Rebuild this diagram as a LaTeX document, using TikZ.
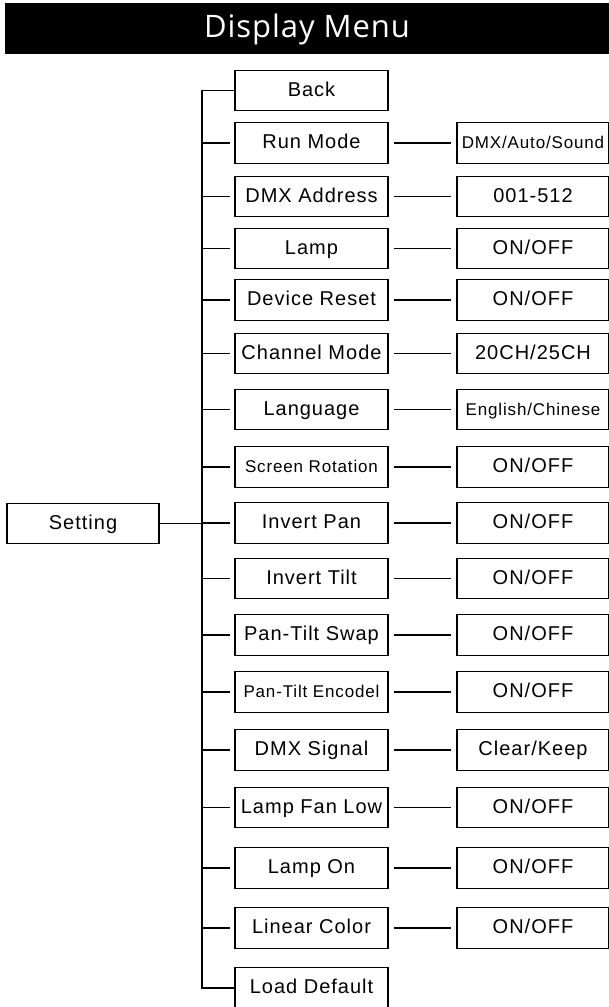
\documentclass[tikz,border=0pt]{standalone}
\usepackage{fontspec}
\usepackage{tikz}
\usetikzlibrary{calc}
\newfontfamily\caixafont[LetterSpace=5]{Liberation Sans}
\newfontfamily\titulofont[LetterSpace=3]{Open Sans}

\begin{document}
\begin{tikzpicture}[
      x=1pt, y=-1pt,
      caixa/.style={draw, line width=1.4pt, inner sep=0pt, minimum height=40.5pt,
        text height=14pt, text depth=3pt, font=\caixafont\fontsize{20}{23}\selectfont},
      menu/.style={caixa, minimum width=153pt},
      valor/.style={caixa, minimum width=152pt},
      miudo/.style={font=\caixafont\fontsize{17}{20}\selectfont},
      ramo/.style={line width=1.3pt, shorten >=4.5pt},
      liga/.style={line width=1.3pt, shorten <=5pt, shorten >=5pt}
    ]
    \useasboundingbox (0,0) rectangle (609,1007);

    % Titulo
    \node[fill=black, text=white, inner sep=0pt, minimum width=604pt, minimum height=51pt,
      text height=22pt, text depth=5pt, font=\titulofont\fontsize{31}{36}\selectfont]
      (titulo) at (307,28.5) {Display Menu};

    % Menu principal
    \node[menu, minimum width=152pt] (setting) at (83,523.5) {Setting};
    \coordinate (tronco) at (202,0);

    \node[menu] (back)     at (311.5,90.5)  {Back};
    \node[menu] (runmode)  at (311.5,143)   {Run Mode};
    \node[menu] (dmxaddr)  at (311.5,196.5) {DMX Address};
    \node[menu] (lamp)     at (311.5,248.5) {Lamp};
    \node[menu] (reset)    at (311.5,300)   {Device Reset};
    \node[menu] (chmode)   at (311.5,353.5) {Channel Mode};
    \node[menu] (language) at (311.5,409.5) {Language};
    \node[menu, miudo] (rotation) at (311.5,467) {Screen Rotation};
    \node[menu] (invpan)   at (311.5,523)   {Invert Pan};
    \node[menu] (invtilt)  at (311.5,578.5) {Invert Tilt};
    \node[menu] (swap)     at (311.5,635)   {Pan-Tilt Swap};
    \node[menu, miudo] (encodel) at (311.5,692) {Pan-Tilt Encodel};
    \node[menu] (signal)   at (311.5,750)   {DMX Signal};
    \node[menu] (fanlow)   at (311.5,807.5) {Lamp Fan Low};
    \node[menu] (lampon)   at (311.5,868)   {Lamp On};
    \node[menu] (linear)   at (311.5,928)   {Linear Color};
    \node[menu] (default)  at (311.5,988)   {Load Default};

    % Valores
    \node[valor, miudo] (v-runmode) at (533,143) {DMX/Auto/Sound};
    \node[valor] (v-dmxaddr)  at (533,196.5) {001-512};
    \node[valor] (v-lamp)     at (533,248.5) {ON/OFF};
    \node[valor] (v-reset)    at (533,300)   {ON/OFF};
    \node[valor] (v-chmode)   at (533,353.5) {20CH/25CH};
    \node[valor, miudo] (v-language) at (533,409.5) {English/Chinese};
    \node[valor] (v-rotation) at (533,467)   {ON/OFF};
    \node[valor] (v-invpan)   at (533,523)   {ON/OFF};
    \node[valor] (v-invtilt)  at (533,578.5) {ON/OFF};
    \node[valor] (v-swap)     at (533,635)   {ON/OFF};
    \node[valor] (v-encodel)  at (533,692)   {ON/OFF};
    \node[valor] (v-signal)   at (533,750)   {Clear/Keep};
    \node[valor] (v-fanlow)   at (533,807.5) {ON/OFF};
    \node[valor] (v-lampon)   at (533,868)   {ON/OFF};
    \node[valor] (v-linear)   at (533,928)   {ON/OFF};

    % Ramos
    \draw[line width=1.3pt] (back.west) -| (tronco |- default) -- (default.west);
    \draw[line width=1.3pt] (setting.east) -- (tronco |- setting);
    \draw[ramo] (tronco |- runmode) -- (runmode);
    \draw[ramo] (tronco |- dmxaddr) -- (dmxaddr);
    \draw[ramo] (tronco |- lamp) -- (lamp);
    \draw[ramo] (tronco |- reset) -- (reset);
    \draw[ramo] (tronco |- chmode) -- (chmode);
    \draw[ramo] (tronco |- language) -- (language);
    \draw[ramo] (tronco |- rotation) -- (rotation);
    \draw[ramo] (tronco |- invpan) -- (invpan);
    \draw[ramo] (tronco |- invtilt) -- (invtilt);
    \draw[ramo] (tronco |- swap) -- (swap);
    \draw[ramo] (tronco |- encodel) -- (encodel);
    \draw[ramo] (tronco |- signal) -- (signal);
    \draw[ramo] (tronco |- fanlow) -- (fanlow);
    \draw[ramo] (tronco |- lampon) -- (lampon);
    \draw[ramo] (tronco |- linear) -- (linear);

    \draw[liga] (runmode) -- (v-runmode);
    \draw[liga] (dmxaddr) -- (v-dmxaddr);
    \draw[liga] (lamp) -- (v-lamp);
    \draw[liga] (reset) -- (v-reset);
    \draw[liga] (chmode) -- (v-chmode);
    \draw[liga] (language) -- (v-language);
    \draw[liga] (rotation) -- (v-rotation);
    \draw[liga] (invpan) -- (v-invpan);
    \draw[liga] (invtilt) -- (v-invtilt);
    \draw[liga] (swap) -- (v-swap);
    \draw[liga] (encodel) -- (v-encodel);
    \draw[liga] (signal) -- (v-signal);
    \draw[liga] (fanlow) -- (v-fanlow);
    \draw[liga] (lampon) -- (v-lampon);
    \draw[liga] (linear) -- (v-linear);

  \end{tikzpicture}
\end{document}
